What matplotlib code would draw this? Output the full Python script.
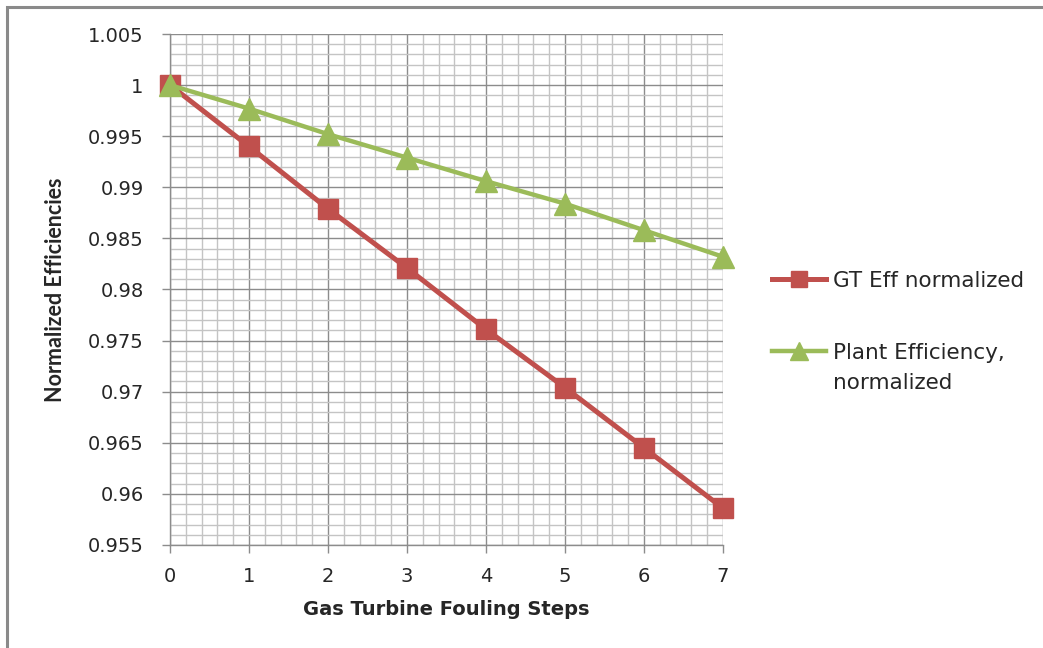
import matplotlib
matplotlib.use("Agg")
import matplotlib.pyplot as plt
from matplotlib.patches import Rectangle
from matplotlib.ticker import MultipleLocator

# Fouling steps and normalized efficiencies
steps = [0, 1, 2, 3, 4, 5, 6, 7]
gt_eff = [1.0, 0.9940, 0.9879, 0.9821, 0.9761, 0.9704, 0.9645, 0.9586]
plant_eff = [1.0, 0.9977, 0.9952, 0.9929, 0.9906, 0.9884, 0.9858, 0.9832]
series_labels = ["GT Eff normalized", "Plant Efficiency,", "normalized"]
x_title = "Gas Turbine Fouling Steps"
y_title = "Normalized Efficiencies"
y_ticks = [0.955, 0.96, 0.965, 0.97, 0.975, 0.98, 0.985, 0.99, 0.995, 1.0, 1.005]
y_tick_labels = ["0.955", "0.96", "0.965", "0.97", "0.975", "0.98",
                 "0.985", "0.99", "0.995", "1", "1.005"]

RED = "#C0504D"
GREEN = "#9BBB59"
TEXT = "#262626"

W, H = 1043, 648
fig = plt.figure(figsize=(W / 100, H / 100), dpi=100)
fig.patch.set_facecolor("white")

# outer chart frame (only top and left edges fall inside the canvas)
fig.patches.append(Rectangle((7 / W, -0.5), 1.5, 1.5 - 6.5 / H,
                             transform=fig.transFigure, fill=False,
                             edgecolor="#8a8a8a", linewidth=2.2))

left, right, top, bottom = 170, 723, 34, 545
ax = fig.add_axes([left / W, 1 - bottom / H, (right - left) / W, (bottom - top) / H])

ax.plot(steps, gt_eff, color=RED, linewidth=3.6, marker="s", markersize=14,
        markeredgecolor=RED, markerfacecolor=RED, label=series_labels[0],
        zorder=4, clip_on=False)
ax.plot(steps, plant_eff, color=GREEN, linewidth=3.2, marker="^", markersize=15.5,
        markeredgecolor=GREEN, markerfacecolor=GREEN, label=series_labels[1],
        zorder=5, clip_on=False)

ax.set_xlim(0, 7)
ax.set_ylim(0.955, 1.005)
ax.set_xticks(steps)
ax.set_xticklabels([str(s) for s in steps])
ax.set_yticks(y_ticks)
ax.set_yticklabels(y_tick_labels)
ax.xaxis.set_minor_locator(MultipleLocator(0.2))
ax.yaxis.set_minor_locator(MultipleLocator(0.001))

ax.grid(which="minor", color="#c4c4c4", linewidth=1.0, zorder=0)
ax.grid(which="major", color="#8c8c8c", linewidth=1.0, zorder=1)
ax.set_axisbelow(True)

for side in ("top", "right"):
    ax.spines[side].set_visible(False)
for side in ("left", "bottom"):
    ax.spines[side].set_color("#8c8c8c")
    ax.spines[side].set_linewidth(1.0)

ax.tick_params(which="major", direction="out", length=6, width=1.0,
               color="#8c8c8c", labelcolor=TEXT, labelsize=14)
ax.tick_params(axis="y", pad=13)
ax.tick_params(axis="x", pad=10)
ax.tick_params(which="minor", length=0)

ax.set_xlabel(x_title, fontsize=14, fontweight="bold", color=TEXT,
              family=["DejaVu Sans"], labelpad=10)
ax.set_ylabel(y_title, fontsize=15.5, fontweight="bold", color=TEXT,
              family=["Lato", "DejaVu Sans"], labelpad=16)

leg_fs = 15.5
leg = ax.legend(loc="upper left", bbox_to_anchor=(772 / W, 1 - 271 / H),
                bbox_transform=fig.transFigure, frameon=False, borderpad=0,
                borderaxespad=0, handlelength=2.5, handletextpad=0.35,
                labelspacing=2.4,
                prop={"family": ["DejaVu Sans"], "size": leg_fs},
                markerscale=0.85)
for t in leg.get_texts():
    t.set_color(TEXT)

# second line of the plant-efficiency legend label, under its first line
fig.canvas.draw()
bb = leg.get_texts()[1].get_window_extent()
fig.text(bb.x0 / W, ((bb.y0 + bb.y1) / 2 - 30) / H, series_labels[2],
         fontsize=leg_fs, color=TEXT, family=["DejaVu Sans"],
         ha="left", va="center")

fig.savefig("out.png", dpi=100, facecolor="white")
